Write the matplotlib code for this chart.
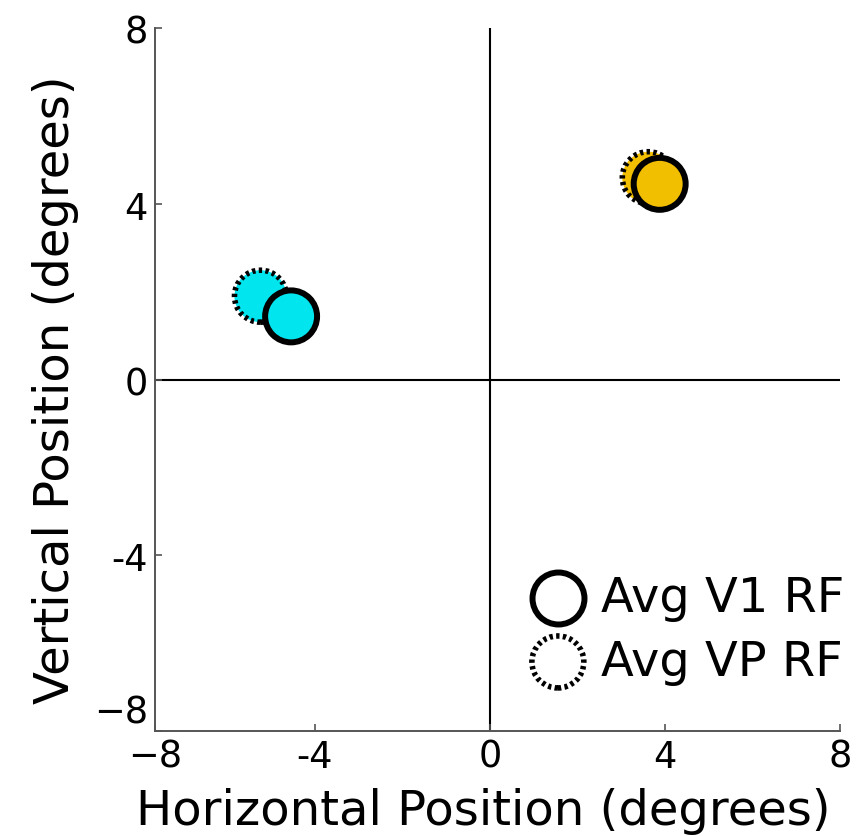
import matplotlib
matplotlib.use("Agg")
import matplotlib.pyplot as plt

# receptive field centres (degrees)
groups = ["cyan", "orange"]
v1_x = [-4.54, 3.88]
v1_y = [1.44, 4.46]
vp_x = [-5.24, 3.62]
vp_y = [1.90, 4.60]
fill_colors = ["#00E5EE", "#F2BE00"]

x_lim = (-7.65, 8)
y_lim = (-8, 8)
x_ticks = [-7.65, -4, 0, 4, 8]
x_tick_labels = ["\u22128", "-4", "0", "4", "8"]
y_ticks = [-8, -4, 0, 4, 8]
y_tick_labels = ["\u22128", "-4", "0", "4", "8"]

fig = plt.figure(figsize=(8.59, 8.37), dpi=100)
ax = fig.add_axes([0.1804, 0.1258, 0.7975, 0.8390])

ax.axhline(0, color="black", lw=1.5, zorder=1)
ax.axvline(0, color="black", lw=1.5, zorder=1)

msize = 1400
vp = ax.scatter(vp_x, vp_y, s=msize, c=fill_colors, edgecolors="black",
                linewidths=4.0, linestyle=(0, (0.6, 0.6)), zorder=2,
                label="Avg VP RF")
v1 = ax.scatter(v1_x, v1_y, s=msize, c=fill_colors, edgecolors="black",
                linewidths=4.3, zorder=3, label="Avg V1 RF")

ax.set_xlim(*x_lim)
ax.set_ylim(*y_lim)
ax.set_xticks(x_ticks)
ax.set_xticklabels(x_tick_labels)
ax.set_yticks(y_ticks)
ax.set_yticklabels(y_tick_labels)
# bottom y label sits above the corner in the original
ax.get_yticklabels()[0].set_va("bottom")

for side in ["top", "right"]:
    ax.spines[side].set_visible(False)
for side in ["left", "bottom"]:
    ax.spines[side].set_color("#555555")
    ax.spines[side].set_linewidth(1.4)
ax.tick_params(direction="in", length=5, width=1.2, color="#555555",
               labelsize=26.5, pad=5)

ax.set_xlabel("Horizontal Position (degrees)", fontsize=34.7)
ax.xaxis.set_label_coords(0.479, -0.08, transform=ax.transAxes)
ax.xaxis.label.set_va("top")
ax.set_ylabel("Vertical Position (degrees)", fontsize=34.7, labelpad=11)
ax.yaxis.label.set_y(0.487)

leg_v1 = ax.scatter([], [], s=msize, facecolors="white", edgecolors="black",
                    linewidths=4.3, label="Avg V1 RF")
leg_vp = ax.scatter([], [], s=msize, facecolors="white", edgecolors="black",
                    linewidths=4.0, linestyle=(0, (0.6, 0.6)), label="Avg VP RF")
ax.legend(handles=[leg_v1, leg_vp], loc="lower right", frameon=False,
          fontsize=34.5, handletextpad=-0.09, borderpad=0.2, labelspacing=0.35,
          bbox_to_anchor=(1.056, 0.018))

fig.savefig("out.png", dpi=100)
